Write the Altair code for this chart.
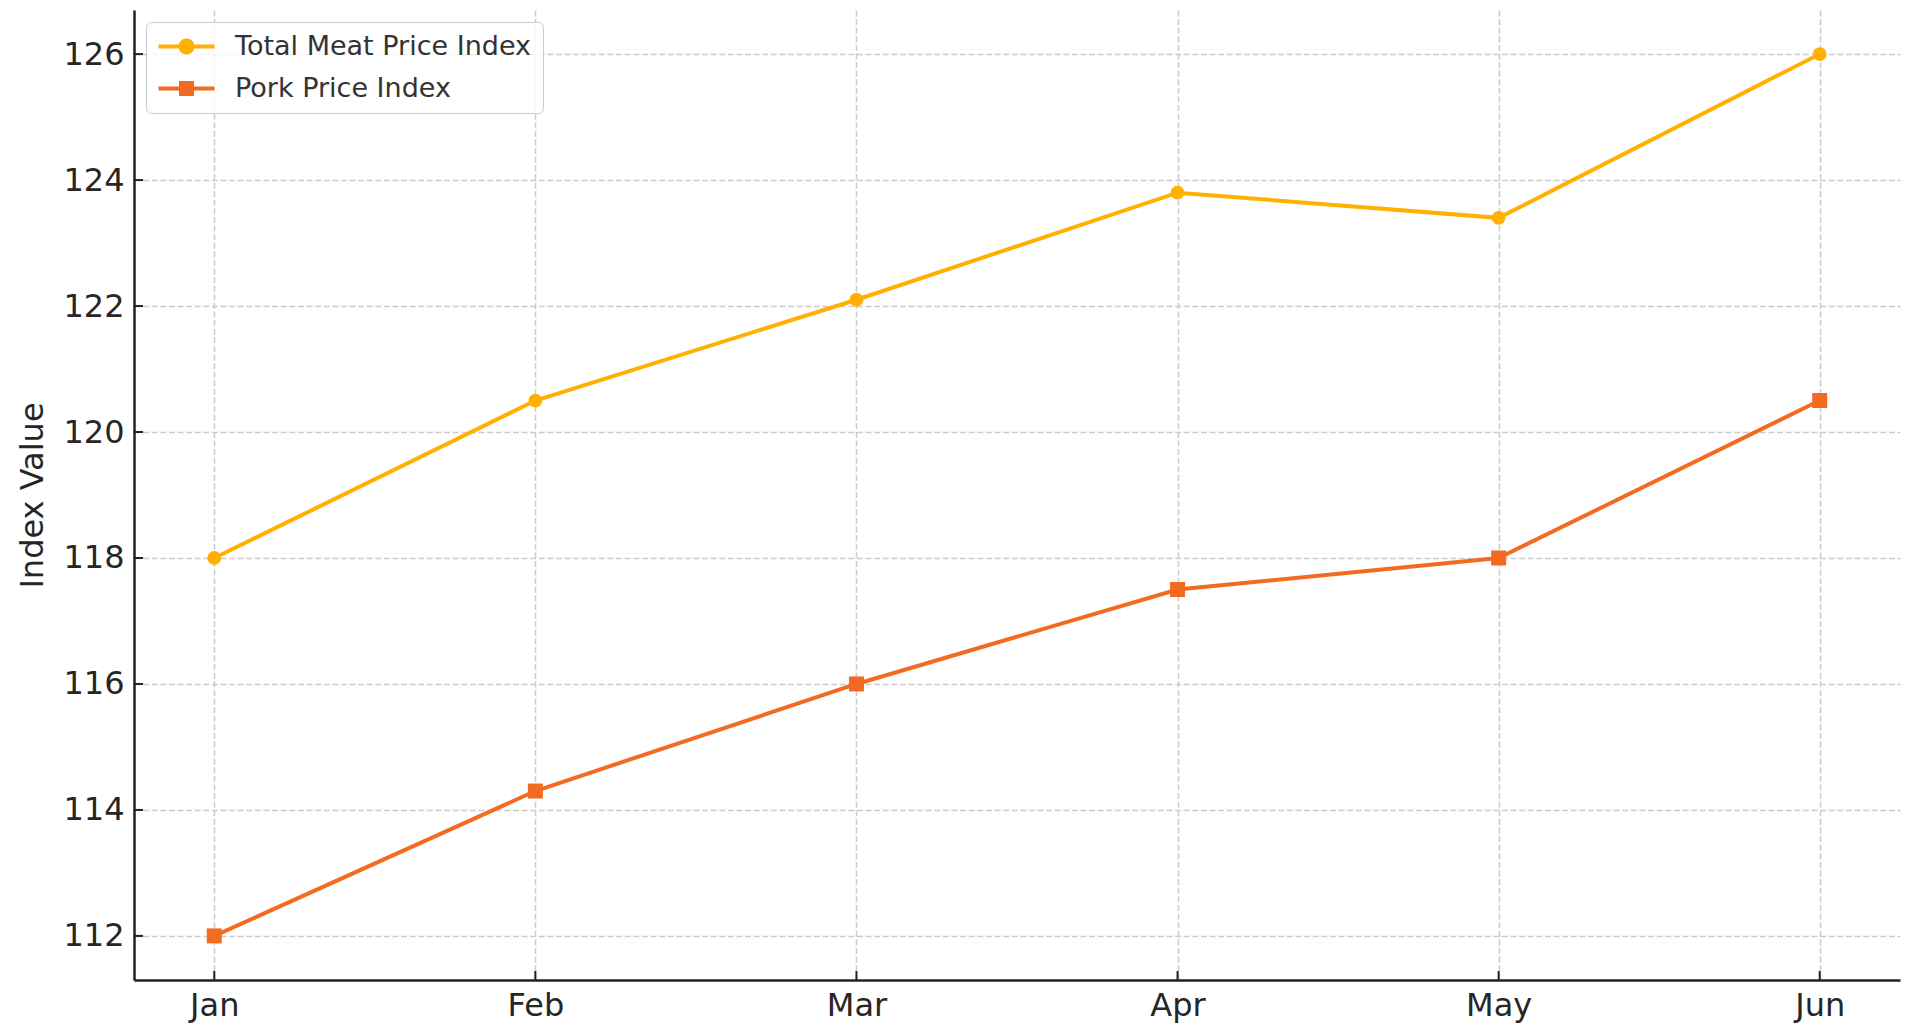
import math
import altair as alt
import pandas as pd

# ---- data ----
months = ["Jan", "Feb", "Mar", "Apr", "May", "Jun"]
total_meat = [118.0, 120.5, 122.1, 123.8, 123.4, 126.0]
pork = [112.0, 114.3, 116.0, 117.5, 118.0, 120.5]
series_names = ["Total Meat Price Index", "Pork Price Index"]
y_ticks = [112, 114, 116, 118, 120, 122, 124, 126]
y_domain = [111.3, 126.7]

# ---- styles ----
series_colors = ["#FFB000", "#F26B21"]
series_shapes = ["circle", "square"]
marker_sizes = [190, 225]

rows = []
for i, m in enumerate(months):
    rows.append({"month": m, "series": series_names[0], "value": total_meat[i]})
    rows.append({"month": m, "series": series_names[1], "value": pork[i]})
df = pd.DataFrame(rows)
month_df = pd.DataFrame({"month": months})
tick_df = pd.DataFrame({"value": y_ticks})

W, H = 1766, 970
FONT = "DejaVu Sans"
TEXT = "#262626"


# ---- legend symbol paths (line + marker), unit = 8px ----
def circle_path(r, n=28):
    pts = [(r * math.cos(2 * math.pi * k / n), r * math.sin(2 * math.pi * k / n)) for k in range(n)]
    return "M" + "L".join(f"{x:.4f},{y:.4f}" for x, y in pts) + "Z"


bar = "M-3.5,-0.24L3.5,-0.24L3.5,0.24L-3.5,0.24Z"
total_sym = bar + circle_path(1.0)
pork_sym = bar + "M-0.94,-0.94L0.94,-0.94L0.94,0.94L-0.94,0.94Z"

x_enc = alt.X(
    "month:N",
    sort=months,
    scale=alt.Scale(type="point", padding=0.25),
    axis=alt.Axis(title=None, labelAngle=0, grid=True, ticks=False, labelPadding=10),
)
y_enc = alt.Y(
    "value:Q",
    scale=alt.Scale(domain=y_domain, nice=False, zero=False),
    axis=alt.Axis(title="Index Value", values=y_ticks, grid=True, ticks=False,
                  labelPadding=10, titlePadding=13),
)

legend = alt.Legend(
    title=None,
    orient="top-left",
    offset=12,
    labelFont=FONT,
    labelFontSize=27,
    labelColor="#333333",
    labelLimit=0,
    symbolSize=256,
    symbolStrokeWidth=0,
    symbolOpacity=1,
    symbolOffset=16,
    labelOffset=35,
    padding=11,
    rowPadding=14,
    fillColor="rgba(255,255,255,0.8)",
    strokeColor="#cccccc",
    cornerRadius=5,
)

color_scale = alt.Scale(domain=series_names, range=series_colors)
color_enc = alt.Color("series:N", scale=color_scale, legend=legend)

base = alt.Chart(df)

# invisible layer (first) that supplies the legend symbols (line + marker)
legend_layer = base.mark_point(filled=True, opacity=0, size=256).encode(
    x=x_enc,
    y=y_enc,
    color=color_enc,
    shape=alt.Shape("series:N", scale=alt.Scale(domain=series_names, range=[total_sym, pork_sym]), legend=legend),
)

lines = base.mark_line(strokeWidth=4).encode(x=x_enc, y=y_enc, color=color_enc, detail="series:N")

point_layers = [
    base.transform_filter(alt.datum.series == name)
    .mark_point(filled=True, opacity=1, size=sz, shape=shp)
    .encode(x=x_enc, y=y_enc, color=color_enc)
    for name, shp, sz in zip(series_names, series_shapes, marker_sizes)
]

x_ticks = alt.Chart(month_df).mark_rule(color="#222222", strokeWidth=2).encode(
    x=x_enc, y=alt.value(H), y2=alt.value(H - 9)
)
y_tick_marks = alt.Chart(tick_df).mark_rule(color="#222222", strokeWidth=2).encode(
    y=y_enc, x=alt.value(0), x2=alt.value(9)
)

chart = (
    alt.layer(legend_layer, lines, *point_layers, x_ticks, y_tick_marks)
    .properties(
        width=W,
        height=H,
        autosize=alt.AutoSizeParams(type="none"),
        padding={"left": 126, "top": 2, "right": 10, "bottom": 44},
        background="white",
    )
    .configure_axis(
        domainColor="#222222",
        domainWidth=2.5,
        labelFont=FONT,
        labelFontSize=32,
        labelColor=TEXT,
        titleFont=FONT,
        titleFontSize=32,
        titleColor=TEXT,
        titleFontWeight="normal",
        gridColor="#cccccc",
        gridDash=[6, 2.6],
        gridWidth=1.5,
    )
    .configure_view(strokeWidth=0)
)

chart.save("out.html", embed_options={"renderer": "svg", "actions": False})
